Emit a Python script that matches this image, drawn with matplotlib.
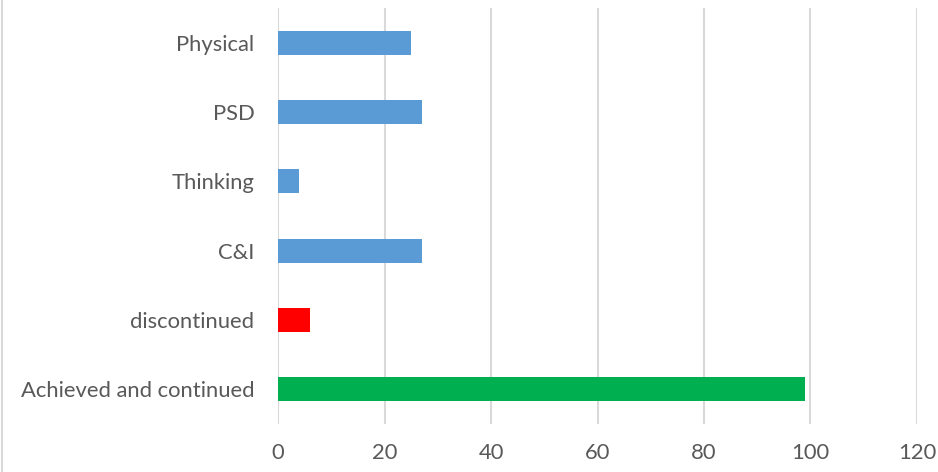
import matplotlib.pyplot as plt
from matplotlib.lines import Line2D

categories = ["Achieved and continued", "discontinued", "C&I", "Thinking", "PSD", "Physical"]
values = [99, 6, 27, 4, 27, 25]
colors = ["#00B050", "#FF0000", "#5B9BD5", "#5B9BD5", "#5B9BD5", "#5B9BD5"]
xticks = [0, 20, 40, 60, 80, 100, 120]

plt.rcParams['font.family'] = ['Lato', 'DejaVu Sans']

fig = plt.figure(figsize=(9.38, 4.72), dpi=100)
ax = fig.add_axes([0.2964, 0.1017, 0.6812, 0.8813])

ax.barh(range(len(categories)), values, height=0.35, color=colors, zorder=3)
ax.set_xlim(0, 120)
ax.set_ylim(-0.5, len(categories) - 0.5)
ax.set_xticks(xticks)
ax.set_yticks(range(len(categories)))
ax.set_yticklabels(categories)
ax.grid(axis="x", color="#D9D9D9", linewidth=1.5, zorder=0)
for s in ax.spines.values():
    s.set_visible(False)
ax.tick_params(length=0, labelsize=15.8, colors="#595959")
ax.tick_params(axis="x", pad=14)
ax.tick_params(axis="y", pad=17)

# chart area border on the left
fig.add_artist(Line2D([0.002, 0.002], [0, 1], color="#D9D9D9", linewidth=1.5))

fig.savefig("out.png", dpi=100)
